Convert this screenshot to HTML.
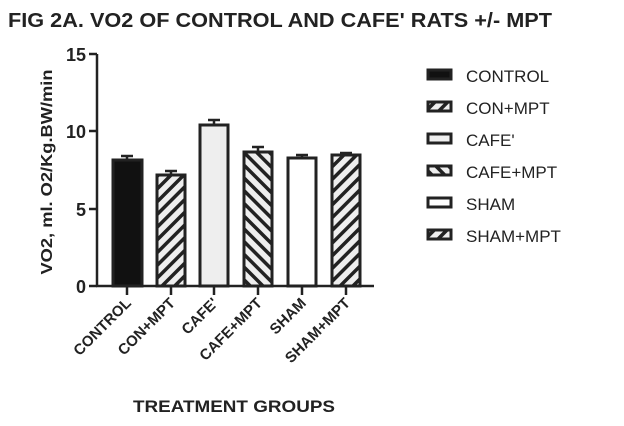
<!DOCTYPE html><html><head><style>body{margin:0;background:#fff}svg{display:block}</style></head><body>
<svg width="624" height="426" xmlns="http://www.w3.org/2000/svg" font-family="Liberation Sans, sans-serif">
<defs>
<pattern id="f" width="9" height="9" patternUnits="userSpaceOnUse" patternTransform="rotate(45)"><rect width="9" height="9" fill="#eee"/><rect width="3.5" height="9" fill="#222"/></pattern>
<pattern id="b" width="9" height="9" patternUnits="userSpaceOnUse" patternTransform="rotate(-45)"><rect width="9" height="9" fill="#eee"/><rect width="3.5" height="9" fill="#222"/></pattern>
</defs>
<text x="8" y="27" font-size="20" font-weight="bold" fill="#222" textLength="544" lengthAdjust="spacingAndGlyphs">FIG 2A. VO2 OF CONTROL AND CAFE' RATS +/- MPT</text>
<g stroke="#222" stroke-width="2.5" fill="none">
<line x1="97" y1="54" x2="97" y2="287"/><line x1="96" y1="286" x2="374" y2="286"/>
<line x1="89" y1="54" x2="97" y2="54"/><line x1="89" y1="131" x2="97" y2="131"/><line x1="89" y1="209" x2="97" y2="209"/><line x1="89" y1="286" x2="97" y2="286"/>
<line x1="127" y1="286" x2="127" y2="295"/><line x1="171" y1="286" x2="171" y2="295"/><line x1="214" y1="286" x2="214" y2="295"/><line x1="258" y1="286" x2="258" y2="295"/><line x1="302" y1="286" x2="302" y2="295"/><line x1="346" y1="286" x2="346" y2="295"/>
<path d="M127 160V156M121 156H133M171 175V171M165 171H177M214 125V120M208 120H220M258 152V147M252 147H264M302 158V155M296 155H308M346 155V153M340 153H352"/>
</g>
<g stroke="#222" stroke-width="3">
<rect x="113" y="160" width="29" height="126" fill="#111"/>
<rect x="157" y="175" width="28" height="111" fill="url(#f)"/>
<rect x="200" y="125" width="28" height="161" fill="#eee"/>
<rect x="244" y="152" width="28" height="134" fill="url(#b)"/>
<rect x="288" y="158" width="28" height="128" fill="#fff"/>
<rect x="332" y="155" width="28" height="131" fill="url(#f)"/>
</g>
<g font-size="18" font-weight="bold" fill="#222" text-anchor="end">
<text x="86" y="61">15</text><text x="86" y="138">10</text><text x="86" y="216">5</text><text x="86" y="293">0</text>
</g>
<text transform="translate(52,172) rotate(-90)" font-size="16" font-weight="bold" text-anchor="middle" fill="#222" textLength="205" lengthAdjust="spacingAndGlyphs">VO2, ml. O2/Kg.BW/min</text>
<g font-size="15" font-weight="bold" fill="#222" text-anchor="end">
<text transform="translate(132,304) rotate(-45)">CONTROL</text>
<text transform="translate(176,304) rotate(-45)">CON+MPT</text>
<text transform="translate(219,304) rotate(-45)">CAFE'</text>
<text transform="translate(263,304) rotate(-45)">CAFE+MPT</text>
<text transform="translate(307,304) rotate(-45)">SHAM</text>
<text transform="translate(351,304) rotate(-45)">SHAM+MPT</text>
</g>
<text x="234" y="412" font-size="17" font-weight="bold" text-anchor="middle" fill="#222" textLength="202" lengthAdjust="spacingAndGlyphs">TREATMENT GROUPS</text>
<g stroke="#222" stroke-width="3">
<rect x="428" y="70" width="23" height="9" fill="#111"/>
<rect x="428" y="102" width="23" height="9" fill="url(#f)"/>
<rect x="428" y="134" width="23" height="9" fill="#eee"/>
<rect x="428" y="166" width="23" height="9" fill="url(#b)"/>
<rect x="428" y="198" width="23" height="9" fill="#fff"/>
<rect x="428" y="230" width="23" height="9" fill="url(#f)"/>
</g>
<g font-size="17" fill="#222">
<text x="466" y="82">CONTROL</text><text x="466" y="114">CON+MPT</text><text x="466" y="146">CAFE'</text><text x="466" y="178">CAFE+MPT</text><text x="466" y="210">SHAM</text><text x="466" y="242">SHAM+MPT</text>
</g>
</svg></body></html>
